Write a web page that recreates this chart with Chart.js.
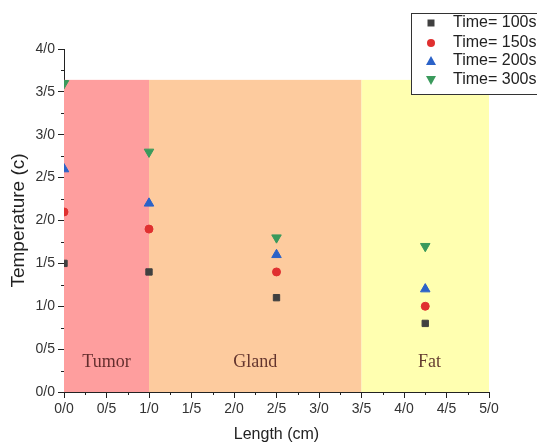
<!DOCTYPE html>
<html>
<head>
<meta charset="utf-8">
<script src="https://cdn.jsdelivr.net/npm/chart.js@4/dist/chart.umd.min.js"></script>
<style>
  html, body { margin: 0; padding: 0; background: #fff; }
  #wrap { width: 537px; height: 444px; position: relative; }
</style>
</head>
<body>
<div id="wrap"><canvas id="tempChart" width="537" height="444"></canvas></div>
<script>
// positions along the length (cm)
var lengths = [0, 1, 2.5, 4.25];
// temperature for each time
var t100 = [1.5, 1.4, 1.1, 0.8];
var t150 = [2.1, 1.9, 1.4, 1.0];
var t200 = [2.6, 2.2, 1.6, 1.2];
var t300 = [3.6, 2.8, 1.8, 1.7];
var seriesNames = ['Time= 100s', 'Time= 150s', 'Time= 200s', 'Time= 300s'];

// tissue regions
var regionNames = ['Tumor', 'Gland', 'Fat'];
var regionStart = [0, 1, 3.5];
var regionEnd = [1, 3.5, 5];
var regionTop = 3.64;
var regionColors = ['#fe9e9e', '#fdcb9e', '#ffffb0'];

function fmt(v) { return v.toFixed(1).replace('.', '/'); }
function pts(ys) { return lengths.map(function (x, i) { return {x: x, y: ys[i]}; }); }

var regionsPlugin = {
  id: 'regions',
  beforeDatasetsDraw: function (chart) {
    var ctx = chart.ctx, xs = chart.scales.x, ys = chart.scales.y;
    ctx.save();
    for (var i = 0; i < regionNames.length; i++) {
      var x0 = xs.getPixelForValue(regionStart[i]);
      var x1 = xs.getPixelForValue(regionEnd[i]);
      var y0 = ys.getPixelForValue(regionTop);
      var y1 = ys.getPixelForValue(0);
      ctx.fillStyle = regionColors[i];
      ctx.fillRect(x0, y0, x1 - x0, y1 - y0);
      ctx.fillStyle = 'rgba(70,25,25,0.85)';
      ctx.font = '18px "Liberation Serif", "Times New Roman", serif';
      ctx.textAlign = 'center';
      ctx.textBaseline = 'middle';
      var cx = i === 2 ? xs.getPixelForValue(4.3) : (x0 + x1) / 2;
      ctx.fillText(regionNames[i], cx, ys.getPixelForValue(0.35));
    }
    ctx.restore();
  },
  afterDraw: function (chart) {
    var ctx = chart.ctx, xs = chart.scales.x, ys = chart.scales.y;
    var a = chart.chartArea;
    ctx.save();
    ctx.strokeStyle = '#222';
    ctx.lineWidth = 1;
    // minor ticks
    ctx.beginPath();
    for (var v = 0.25; v < 5; v += 0.5) {
      var px = Math.round(xs.getPixelForValue(v)) + 0.5;
      ctx.moveTo(px, a.bottom); ctx.lineTo(px, a.bottom + 3);
    }
    for (var w = 0.25; w < 4; w += 0.5) {
      var py = Math.round(ys.getPixelForValue(w)) + 0.5;
      ctx.moveTo(a.left, py); ctx.lineTo(a.left - 3, py);
    }
    ctx.stroke();

    // legend
    var bx = 411, by = 13, bw = 140, bh = 81;
    ctx.fillStyle = '#fff';
    ctx.fillRect(bx, by, bw, bh);
    ctx.strokeStyle = '#333';
    ctx.strokeRect(bx + 0.5, by + 0.5, bw, bh);
    ctx.font = '16px "Liberation Sans", Arial, sans-serif';
    ctx.textBaseline = 'middle';
    ctx.textAlign = 'left';
    var rows = [23, 43, 61, 80];
    chart.data.datasets.forEach(function (ds, i) {
      var mx = 431, my = rows[i];
      ctx.fillStyle = ds.backgroundColor;
      ctx.beginPath();
      if (ds.pointStyle === 'rect') {
        ctx.rect(mx - 3.5, my - 3.5, 7, 7);
      } else if (ds.pointStyle === 'circle') {
        ctx.arc(mx, my, 4, 0, Math.PI * 2);
      } else if (ds.rotation === 180) {
        ctx.moveTo(mx - 5, my - 4); ctx.lineTo(mx + 5, my - 4); ctx.lineTo(mx, my + 5);
      } else {
        ctx.moveTo(mx - 5, my + 4); ctx.lineTo(mx + 5, my + 4); ctx.lineTo(mx, my - 5);
      }
      ctx.closePath();
      ctx.fill();
      ctx.fillStyle = '#222';
      ctx.fillText(ds.label, 453, my);
    });
    ctx.restore();
  }
};

new Chart(document.getElementById('tempChart').getContext('2d'), {
  type: 'scatter',
  data: {
    datasets: [
      {label: seriesNames[0], data: pts(t100), backgroundColor: '#404040', borderColor: '#404040', pointStyle: 'rect', pointRadius: 4.5},
      {label: seriesNames[1], data: pts(t150), backgroundColor: '#e03030', borderColor: '#e03030', pointStyle: 'circle', pointRadius: 4},
      {label: seriesNames[2], data: pts(t200), backgroundColor: '#2b62c8', borderColor: '#2b62c8', pointStyle: 'triangle', pointRadius: 5.5},
      {label: seriesNames[3], data: pts(t300), backgroundColor: '#3a9a5c', borderColor: '#3a9a5c', pointStyle: 'triangle', rotation: 180, pointRadius: 5.5}
    ]
  },
  options: {
    responsive: false,
    animation: false,
    clip: 0,
    layout: {padding: {top: 49, right: 48, left: 0, bottom: 0}},
    plugins: {legend: {display: false}, tooltip: {enabled: false}},
    scales: {
      x: {
        type: 'linear', min: 0, max: 5,
        afterFit: function (s) { s.height = 52; },
        grid: {display: true, drawOnChartArea: false, tickLength: 6, color: '#222'},
        border: {display: true, color: '#222', width: 1},
        ticks: {stepSize: 0.5, color: '#333', padding: 3, maxRotation: 0,
          font: {family: '"Liberation Sans", Arial, sans-serif', size: 14},
          callback: function (v) { return fmt(v); }},
        title: {display: true, text: 'Length (cm)', color: '#222', padding: {top: 5, bottom: 0},
          font: {family: '"Liberation Sans", Arial, sans-serif', size: 16}}
      },
      y: {
        min: 0, max: 4,
        afterFit: function (s) { s.width = 64; },
        grid: {display: true, drawOnChartArea: false, tickLength: 6, color: '#222'},
        border: {display: true, color: '#222', width: 1},
        ticks: {stepSize: 0.5, color: '#333', padding: 3,
          font: {family: '"Liberation Sans", Arial, sans-serif', size: 14},
          callback: function (v) { return fmt(v); }},
        title: {display: true, text: 'Temperature (c)', color: '#222', padding: {top: 7, bottom: 0},
          font: {family: '"Liberation Sans", Arial, sans-serif', size: 19}}
      }
    }
  },
  plugins: [regionsPlugin]
});
</script>
</body>
</html>
